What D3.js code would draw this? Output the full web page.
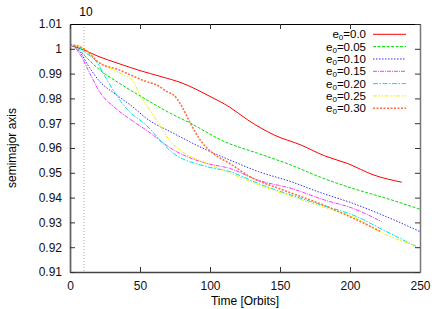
<!DOCTYPE html>
<html>
<head>
<meta charset="utf-8">
<script src="https://cdn.jsdelivr.net/npm/d3@7"></script>
<style>
  body { margin: 0; background: #fff; }
  text { font-family: "Liberation Sans", Arial, sans-serif; }
</style>
</head>
<body>
<svg id="chart" width="442" height="309"></svg>
<script>
// values
var xTicks = [0, 50, 100, 150, 200, 250];
var yTicks = [0.91, 0.92, 0.93, 0.94, 0.95, 0.96, 0.97, 0.98, 0.99, 1.0, 1.01];
var markT = 10;

var tE000 = [0, 10, 20, 35, 50, 65, 80, 100, 114, 127, 146, 165, 182, 198, 217, 237];
var aE000 = [1.0015, 0.9995, 0.997, 0.994, 0.9912, 0.9888, 0.9862, 0.9808, 0.9765, 0.9713, 0.9652, 0.9612, 0.9568, 0.9538, 0.9491, 0.9462];

var tE005 = [0, 5, 10, 21, 35, 54, 70, 86, 111, 134, 158, 179, 202, 226, 250];
var aE005 = [1.0015, 1.0005, 0.9975, 0.9916, 0.9862, 0.9797, 0.9745, 0.970, 0.9624, 0.9579, 0.9531, 0.9482, 0.9437, 0.9397, 0.9353];

var tE010 = [0, 3, 6.7, 13.8, 21, 33, 45, 54, 74, 97.6, 114, 134.5, 158, 179, 202, 226, 250];
var aE010 = [1.0015, 1.0008, 0.999, 0.9925, 0.987, 0.9815, 0.9765, 0.9722, 0.9659, 0.9592, 0.9552, 0.9505, 0.9464, 0.942, 0.9377, 0.9323, 0.9263];

var tE015 = [0, 3, 6.7, 13.8, 21, 33, 45, 54, 74, 97.6, 114, 134.5, 158, 182, 202, 222.6];
var aE015 = [1.0015, 1.0008, 0.9982, 0.9905, 0.9828, 0.9758, 0.9708, 0.9674, 0.9592, 0.9538, 0.9518, 0.947, 0.9437, 0.939, 0.9357, 0.9303];

var tE020 = [0, 5, 11.4, 18.6, 25.7, 33, 40, 54, 74, 97.6, 114, 134.5, 158, 182, 202, 226, 250];
var aE020 = [1.0015, 1.001, 0.9983, 0.995, 0.9882, 0.9815, 0.9761, 0.9694, 0.9578, 0.9525, 0.9505, 0.9457, 0.941, 0.9366, 0.933, 0.9263, 0.9195];

var tE025 = [0, 10, 21, 25.7, 37.6, 45, 50, 57, 64, 71, 78.6, 97.6, 114, 134.5, 158, 182, 202, 226, 245];
var aE025 = [1.0015, 1.0, 0.9945, 0.993, 0.9896, 0.9869, 0.9815, 0.9753, 0.9693, 0.9632, 0.9592, 0.9538, 0.95, 0.9452, 0.9405, 0.936, 0.9323, 0.9249, 0.921];

var tE030 = [0, 10, 21, 35, 45, 54, 62, 70, 74, 78.6, 86, 93, 102, 114, 128.6, 150, 180, 200, 222];
var aE030 = [1.0018, 1.0, 0.9943, 0.9915, 0.989, 0.9869, 0.9854, 0.9825, 0.9814, 0.978, 0.970, 0.9632, 0.9579, 0.9538, 0.9484, 0.9435, 0.9372, 0.9323, 0.9263];

var seriesNames = ["0.0", "0.05", "0.10", "0.15", "0.20", "0.25", "0.30"];
var seriesT = [tE000, tE005, tE010, tE015, tE020, tE025, tE030];
var seriesA = [aE000, aE005, aE010, aE015, aE020, aE025, aE030];
var colors = ["#ff0000", "#00dd00", "#3333ff", "#ff33ff", "#00e0e0", "#eeee00", "#ff7040"];
var dashes = [null, "3,1.5", "1.5,1.5", "4,1,1,1", "5,1.5,1.5,1.5", "4,1.5,1.5,1.5,1.5,1.5", "2,1.5"];

var svg = d3.select("#chart"),
    width = +svg.attr("width"),
    height = +svg.attr("height");
var margin = {top: 24, right: 22, bottom: 37, left: 70};
var x = d3.scaleLinear().domain([0, 250]).range([margin.left, width - margin.right]);
var y = d3.scaleLinear().domain([0.91, 1.01]).range([height - margin.bottom, margin.top]);

function fmt(v) { return String(+v.toFixed(2)); }

// dotted marker at t=10
svg.append("line")
    .attr("x1", x(markT)).attr("x2", x(markT))
    .attr("y1", y(1.01)).attr("y2", y(0.91))
    .attr("stroke", "#aaa").attr("stroke-width", 1)
    .attr("stroke-dasharray", "1,2");
svg.append("text")
    .attr("x", x(markT) + 2).attr("y", 16)
    .attr("text-anchor", "middle").attr("font-size", 12)
    .text(markT);

// curves
var line = d3.line()
    .x(function(d) { return x(d[0]); })
    .y(function(d) { return y(d[1]); })
    .curve(d3.curveMonotoneX);

for (var i = 0; i < seriesT.length; i++) {
  var pts = seriesT[i].map(function(t, j) { return [t, seriesA[i][j]]; });
  var p = svg.append("path")
      .datum(pts)
      .attr("fill", "none")
      .attr("stroke", colors[i])
      .attr("stroke-width", i == 6 ? 1.6 : 1)
      .attr("d", line);
  if (dashes[i]) p.attr("stroke-dasharray", dashes[i]);
}

// axes (gnuplot style, inward ticks, mirrored)
var axBottom = svg.append("g")
    .attr("transform", "translate(0," + y(0.91) + ")")
    .call(d3.axisBottom(x).tickValues(xTicks).tickSizeInner(-5).tickSizeOuter(0).tickPadding(9));
var axLeft = svg.append("g")
    .attr("transform", "translate(" + x(0) + ",0)")
    .call(d3.axisLeft(y).tickValues(yTicks).tickFormat(fmt).tickSizeInner(-5).tickSizeOuter(0).tickPadding(8));
var axTop = svg.append("g")
    .attr("transform", "translate(0," + y(1.01) + ")")
    .call(d3.axisTop(x).tickValues(xTicks).tickFormat("").tickSizeInner(-5).tickSizeOuter(0));
var axRight = svg.append("g")
    .attr("transform", "translate(" + x(250) + ",0)")
    .call(d3.axisRight(y).tickValues(yTicks).tickFormat("").tickSizeInner(-5).tickSizeOuter(0));

[axBottom, axLeft, axTop, axRight].forEach(function(g) {
  g.selectAll("text").attr("font-size", 12).attr("fill", "#111")
      .attr("font-family", "'Liberation Sans', Arial, sans-serif");
  g.selectAll("line").attr("stroke", "#333");
});
axBottom.select(".domain").attr("stroke", "#444").attr("stroke-width", 1.5);
axLeft.select(".domain").attr("stroke", "#666").attr("stroke-width", 1.8);
axRight.select(".domain").attr("stroke", "#777").attr("stroke-width", 1.5);
axTop.select(".domain").attr("stroke", "#000").attr("stroke-width", 1);

// axis labels
svg.append("text")
    .attr("x", (x(0) + x(250)) / 2).attr("y", 305)
    .attr("text-anchor", "middle").attr("font-size", 12)
    .text("Time [Orbits]");
svg.append("text")
    .attr("transform", "translate(16," + (y(0.96)) + ") rotate(-90)")
    .attr("text-anchor", "middle").attr("font-size", 12)
    .text("semimajor axis");

// legend
var legend = svg.append("g");
seriesNames.forEach(function(name, i) {
  var ly = 34.3 + i * 12.33;
  var t = legend.append("text")
      .attr("x", 366).attr("y", ly + 4)
      .attr("text-anchor", "end").attr("font-size", 11.5);
  t.append("tspan").text("e");
  t.append("tspan").attr("font-size", 8).attr("dy", 2).text("0");
  t.append("tspan").attr("dy", -2).text("=" + name);
  var l = legend.append("line")
      .attr("x1", 373).attr("x2", 406)
      .attr("y1", ly).attr("y2", ly)
      .attr("stroke", colors[i])
      .attr("stroke-width", i == 6 ? 1.6 : 1);
  if (dashes[i]) l.attr("stroke-dasharray", dashes[i]);
});
</script>
</body>
</html>
